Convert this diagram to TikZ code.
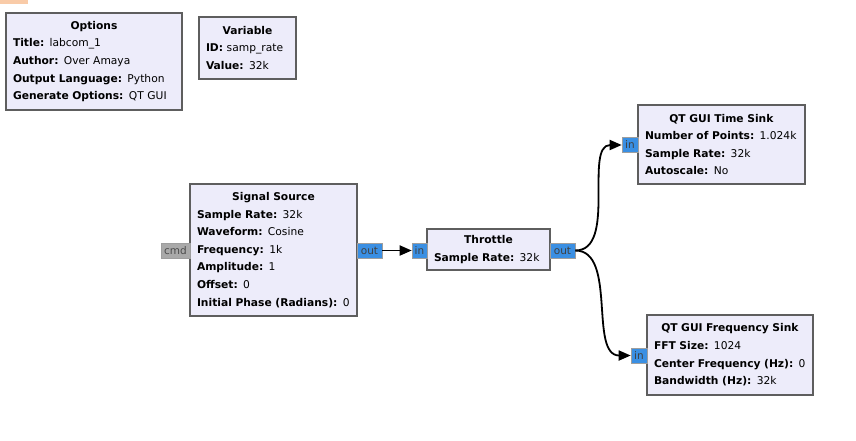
\documentclass[tikz,border=0pt]{standalone}
\usepackage{fontspec}
\setmainfont{DejaVu Sans}
\usetikzlibrary{arrows.meta}
\definecolor{blockfill}{HTML}{EDECFA}
\definecolor{blockline}{HTML}{5E5E5E}
\definecolor{portblue}{HTML}{3A8FE3}
\definecolor{portgray}{HTML}{A9A9A9}
\definecolor{tabor}{HTML}{F9CBA8}

\begin{document}
\begin{tikzpicture}[x=1pt,y=-1pt,
  block/.style={draw=blockline,line width=1.6pt,fill=blockfill,inner xsep=7pt,inner ysep=0pt,font=\fontsize{10.7}{17.6}\selectfont},
  port/.style={draw=blockline!60,line width=0.6pt,fill=portblue,inner sep=0pt,minimum height=15pt,font=\fontsize{10.5}{10}\selectfont,text=black!75},
  wire/.style={line width=1.8pt,-{Triangle[length=12pt,width=10pt]}}]
  \useasboundingbox (0,0) rectangle (856,440);
  \fill[tabor] (0,0) rectangle (28,4);

  \node[block,minimum width=176pt,minimum height=97pt,text width=162pt] (opts) at (94,61.5)
    {{\centering\textbf{Options}\par}\textbf{Title:} labcom\_1\par\textbf{Author:} Over Amaya\par\textbf{Output Language:} Python\par\textbf{Generate Options:} QT GUI};
  \node[block,minimum width=97pt,minimum height=62pt,text width=83pt] (var) at (247.5,48)
    {{\centering\textbf{Variable}\par}\textbf{ID:} samp\_rate\par\textbf{Value:} 32k};
  \node[block,minimum width=167pt,minimum height=132pt,text width=153pt] (src) at (273.5,250)
    {{\centering\textbf{Signal Source}\par}\textbf{Sample Rate:} 32k\par\textbf{Waveform:} Cosine\par\textbf{Frequency:} 1k\par\textbf{Amplitude:} 1\par\textbf{Offset:} 0\par\textbf{Initial Phase (Radians):} 0};
  \node[block,minimum width=123pt,minimum height=41pt,text width=109pt] (thr) at (488.5,249.5)
    {{\centering\textbf{Throttle}\par}\textbf{Sample Rate:} 32k};
  \node[block,minimum width=167pt,minimum height=79pt,text width=153pt] (tsink) at (721.5,144.5)
    {{\centering\textbf{QT GUI Time Sink}\par}\textbf{Number of Points:} 1.024k\par\textbf{Sample Rate:} 32k\par\textbf{Autoscale:} No};
  \node[block,minimum width=166pt,minimum height=80pt,text width=152pt] (fsink) at (730,355)
    {{\centering\textbf{QT GUI Frequency Sink}\par}\textbf{FFT Size:} 1024\par\textbf{Center Frequency (Hz):} 0\par\textbf{Bandwidth (Hz):} 32k};

  \node[port,fill=portgray,minimum width=29pt,text=black!70] (cmd) at (175.5,250.5) {cmd};
  \node[port,minimum width=25pt] (srcout) at (369.5,250.5) {out};
  \node[port,minimum width=15pt] (thrin) at (419.5,250.5) {in};
  \node[port,minimum width=25pt] (throut) at (562.5,250.5) {out};
  \node[port,minimum width=16pt] (tin) at (630,145) {in};
  \node[port,minimum width=16pt] (fin) at (639,355.5) {in};

	\draw[wire] (srcout) to (thrin);
	\draw[wire] (throut.east) .. controls +(42,0) and +(-38,0) .. (tin.west);
	\draw[wire] (throut.east) .. controls +(42,0) and +(-42,0) .. (fin.west);
\end{tikzpicture}
\end{document}
